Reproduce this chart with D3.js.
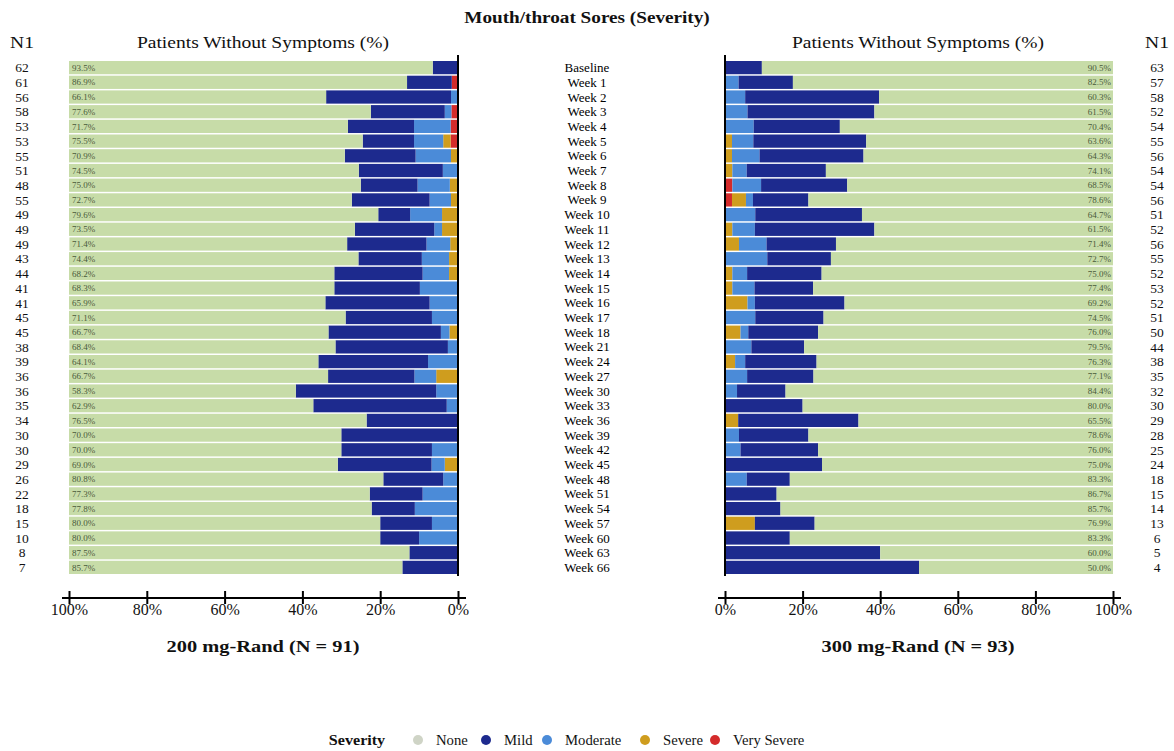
<!DOCTYPE html>
<html>
<head>
<meta charset="utf-8">
<script src="https://cdn.jsdelivr.net/npm/d3@7"></script>
<style>
  body { margin: 0; background: #fff; }
  text { font-family: "Liberation Serif", "DejaVu Serif", serif; fill: #111; }
</style>
</head>
<body>
<svg id="chart" width="1174" height="751"></svg>
<script>
// visits, top to bottom
var visits = ["Baseline", "Week 1", "Week 2", "Week 3", "Week 4", "Week 5", "Week 6", "Week 7",
    "Week 8", "Week 9", "Week 10", "Week 11", "Week 12", "Week 13", "Week 14", "Week 15",
    "Week 16", "Week 17", "Week 18", "Week 21", "Week 24", "Week 27", "Week 30", "Week 33",
    "Week 36", "Week 39", "Week 42", "Week 45", "Week 48", "Week 51", "Week 54", "Week 57",
    "Week 60", "Week 63", "Week 66"];

// 200 mg-Rand (left panel)
var lowN1 = [62, 61, 56, 58, 53, 53, 55, 51, 48, 55, 49, 49, 49, 43, 44, 41, 41, 45, 45, 38,
    39, 36, 36, 35, 34, 30, 30, 29, 26, 22, 18, 15, 10, 8, 7];
var lowNone = [93.5, 86.9, 66.1, 77.6, 71.7, 75.5, 70.9, 74.5, 75.0, 72.7, 79.6, 73.5, 71.4, 74.4,
    68.2, 68.3, 65.9, 71.1, 66.7, 68.4, 64.1, 66.7, 58.3, 62.9, 76.5, 70.0, 70.0, 69.0, 80.8,
    77.3, 77.8, 80.0, 80.0, 87.5, 85.7];
var lowMild = [6.5, 11.5, 32.1, 19.0, 17.0, 13.2, 18.2, 21.6, 14.6, 20.0, 8.2, 20.4, 20.4, 16.3,
    22.7, 22.0, 26.8, 22.2, 28.9, 28.9, 28.2, 22.2, 36.1, 34.3, 23.5, 30.0, 23.3, 24.1, 15.4,
    13.6, 11.1, 13.3, 10.0, 12.5, 14.3];
var lowModerate = [0, 0, 1.8, 1.7, 9.4, 7.5, 9.1, 3.9, 8.3, 5.5, 8.2, 2.0, 6.1, 7.0, 6.8, 9.8,
    7.3, 6.7, 2.2, 2.6, 7.7, 5.6, 5.6, 2.9, 0, 0, 6.7, 3.4, 3.8, 9.1, 11.1, 6.7, 10.0, 0, 0];
var lowSevere = [0, 0, 0, 0, 0, 1.9, 1.8, 0, 2.1, 1.8, 4.1, 4.1, 2.0, 2.3, 2.3, 0, 0, 0, 2.2, 0,
    0, 5.6, 0, 0, 0, 0, 0, 3.4, 0, 0, 0, 0, 0, 0, 0];
var lowVerySevere = [0, 1.6, 0, 1.7, 1.9, 1.9, 0, 0, 0, 0, 0, 0, 0, 0, 0, 0, 0, 0, 0, 0,
    0, 0, 0, 0, 0, 0, 0, 0, 0, 0, 0, 0, 0, 0, 0];

// 300 mg-Rand (right panel)
var highN1 = [63, 57, 58, 52, 54, 55, 56, 54, 54, 56, 51, 52, 56, 55, 52, 53, 52, 51, 50, 44,
    38, 35, 32, 30, 29, 28, 25, 24, 18, 15, 14, 13, 6, 5, 4];
var highNone = [90.5, 82.5, 60.3, 61.5, 70.4, 63.6, 64.3, 74.1, 68.5, 78.6, 64.7, 61.5, 71.4, 72.7,
    75.0, 77.4, 69.2, 74.5, 76.0, 79.5, 76.3, 77.1, 84.4, 80.0, 65.5, 78.6, 76.0, 75.0, 83.3,
    86.7, 85.7, 76.9, 83.3, 60.0, 50.0];
var highMild = [9.5, 14.0, 34.5, 32.7, 22.2, 29.1, 26.8, 20.4, 22.2, 14.3, 27.5, 30.8, 17.9, 16.4,
    19.2, 15.1, 23.1, 17.6, 18.0, 13.6, 18.4, 17.1, 12.5, 20.0, 31.0, 17.9, 20.0, 25.0, 11.1,
    13.3, 14.3, 15.4, 16.7, 40.0, 50.0];
var highModerate = [0, 3.5, 5.2, 5.8, 7.4, 5.5, 7.1, 3.7, 7.4, 1.8, 7.8, 5.8, 7.1, 10.9, 3.8, 5.7,
    1.9, 7.8, 2.0, 6.8, 2.6, 5.7, 3.1, 0, 0, 3.6, 4.0, 0, 5.6, 0, 0, 0, 0, 0, 0];
var highSevere = [0, 0, 0, 0, 0, 1.8, 1.8, 1.9, 0, 3.6, 0, 1.9, 3.6, 0, 1.9, 1.9, 5.8, 0, 4.0, 0,
    2.6, 0, 0, 0, 3.4, 0, 0, 0, 0, 0, 0, 7.7, 0, 0, 0];
var highVerySevere = [0, 0, 0, 0, 0, 0, 0, 0, 1.9, 1.8, 0, 0, 0, 0, 0, 0, 0, 0, 0, 0,
    0, 0, 0, 0, 0, 0, 0, 0, 0, 0, 0, 0, 0, 0, 0];

var severities = ["Very Severe", "Severe", "Moderate", "Mild", "None"];
var legendOrder = ["None", "Mild", "Moderate", "Severe", "Very Severe"];
var colors = {
    "None": "#c7dca8",
    "Mild": "#1d2a8e",
    "Moderate": "#4b8bd8",
    "Severe": "#cf9d1e",
    "Very Severe": "#d42b2b"
};
var legendColors = {"None": "#cfd4c6"};
var xTicks = [0, 20, 40, 60, 80, 100];

function rows(none, mild, moderate, severe, verySevere)
{
    return visits.map(function(v, i) {
        return {visit: v, "None": none[i], "Mild": mild[i], "Moderate": moderate[i],
            "Severe": severe[i], "Very Severe": verySevere[i]};
    });
}

var lowRows = rows(lowNone, lowMild, lowModerate, lowSevere, lowVerySevere),
    highRows = rows(highNone, highMild, highModerate, highSevere, highVerySevere);

var svg = d3.select("#chart");

var y = d3.scaleBand().domain(visits).range([61, 574]).paddingInner(0.1);
var xLow = d3.scaleLinear().domain([0, 100]).range([458, 69]);
var xHigh = d3.scaleLinear().domain([0, 100]).range([725, 1113]);

var stack = d3.stack().keys(severities);

// the original's lettering is a bit wider than Liberation Serif, stretch it a touch
function label(parent, x, yy, size, str, sx)
{
    return parent.append("text")
        .attr("transform", "translate(" + x + "," + yy + ") scale(" + (sx || 1) + ",1)")
        .attr("dy", "0.35em")
        .attr("text-anchor", "middle")
        .style("font-size", size + "px")
        .text(str);
}

function drawPanel(data, x, n1, n1x, labelX, labelAnchor, centerX, title)
{
    var g = svg.append("g");
    var layers = stack(data);

    g.selectAll("g.layer")
        .data(layers)
        .enter().append("g")
        .attr("class", "layer")
        .attr("fill", function(d) { return colors[d.key] })
        .selectAll("rect")
        .data(function(d) { return d })
        .enter().append("rect")
        .attr("x", function(d) { return Math.min(x(d[0]), x(Math.min(d[1], 100))) })
        .attr("width", function(d) { return Math.abs(x(Math.min(d[1], 100)) - x(d[0])) })
        .attr("y", function(d) { return y(d.data.visit) })
        .attr("height", y.bandwidth());

    // none percentage labels
    g.selectAll("text.pct")
        .data(data)
        .enter().append("text")
        .attr("class", "pct")
        .attr("x", labelX)
        .attr("y", function(d) { return y(d.visit) + y.bandwidth() / 2 })
        .attr("dy", "0.35em")
        .attr("text-anchor", labelAnchor)
        .style("font-size", "9px")
        .style("fill", "#4a5a3a")
        .text(function(d) { return d["None"].toFixed(1) + "%" });

    // N1 column
    g.selectAll("text.n1")
        .data(n1)
        .enter().append("text")
        .attr("class", "n1")
        .attr("x", n1x)
        .attr("y", function(d, i) { return y(visits[i]) + y.bandwidth() / 2 })
        .attr("dy", "0.35em")
        .attr("text-anchor", "middle")
        .style("font-size", "13.5px")
        .text(function(d) { return d });

    // zero line
    g.append("line")
        .attr("x1", x(0)).attr("x2", x(0))
        .attr("y1", 55).attr("y2", 576)
        .attr("stroke", "#000").attr("stroke-width", 2);

    // bottom axis
    var axis = g.append("g")
        .attr("transform", "translate(0,591)")
        .call(d3.axisBottom(x).tickValues(xTicks).tickFormat(function(d) { return d + "%" })
            .tickSize(13).tickPadding(0));
    axis.select(".domain").remove();
    axis.selectAll(".tick line").attr("stroke", "#000").attr("stroke-width", 2);
    axis.selectAll(".tick text")
        .style("font-family", "'Liberation Serif', serif")
        .style("font-size", "16px")
        .attr("fill", "#111");

    var ends = d3.extent(x.range());
    g.append("line")
        .attr("x1", ends[0] - 7).attr("x2", ends[1] + 8)
        .attr("y1", 598).attr("y2", 598)
        .attr("stroke", "#000").attr("stroke-width", 2);

    label(g, centerX, 42, 17, "Patients Without Symptoms (%)", 1.15);
    label(g, n1x, 42, 17, "N1", 1.15);
    label(g, centerX, 646, 17, title, 1.2).style("font-weight", "bold");
}

drawPanel(lowRows, xLow, lowN1, 22, 72, "start", 263, "200 mg-Rand (N = 91)");
drawPanel(highRows, xHigh, highN1, 1157, 1111, "end", 918, "300 mg-Rand (N = 93)");

// visit labels in the middle
svg.append("g").selectAll("text")
    .data(visits)
    .enter().append("text")
    .attr("x", 587)
    .attr("y", function(d) { return y(d) + y.bandwidth() / 2 })
    .attr("dy", "0.35em")
    .attr("text-anchor", "middle")
    .style("font-size", "13px")
    .style("fill", "#000")
    .text(function(d) { return d });

label(svg, 587, 17, 16, "Mouth/throat Sores (Severity)", 1.2).style("font-weight", "bold");

// legend
var legend = svg.append("g").attr("transform", "translate(0,740)");
label(legend, 357, 0, 14, "Severity", 1.15).style("font-weight", "bold");

var legendX = [418, 486, 547, 645, 715];
var item = legend.selectAll("g.item")
    .data(legendOrder)
    .enter().append("g")
    .attr("class", "item")
    .attr("transform", function(d, i) { return "translate(" + legendX[i] + ",0)" });
item.append("circle")
    .attr("r", 5)
    .attr("fill", function(d) { return legendColors[d] || colors[d] });
item.append("text")
    .attr("transform", "translate(18,0) scale(1.05,1)")
    .attr("dy", "0.35em")
    .style("font-size", "14px")
    .text(function(d) { return d });
</script>
</body>
</html>
